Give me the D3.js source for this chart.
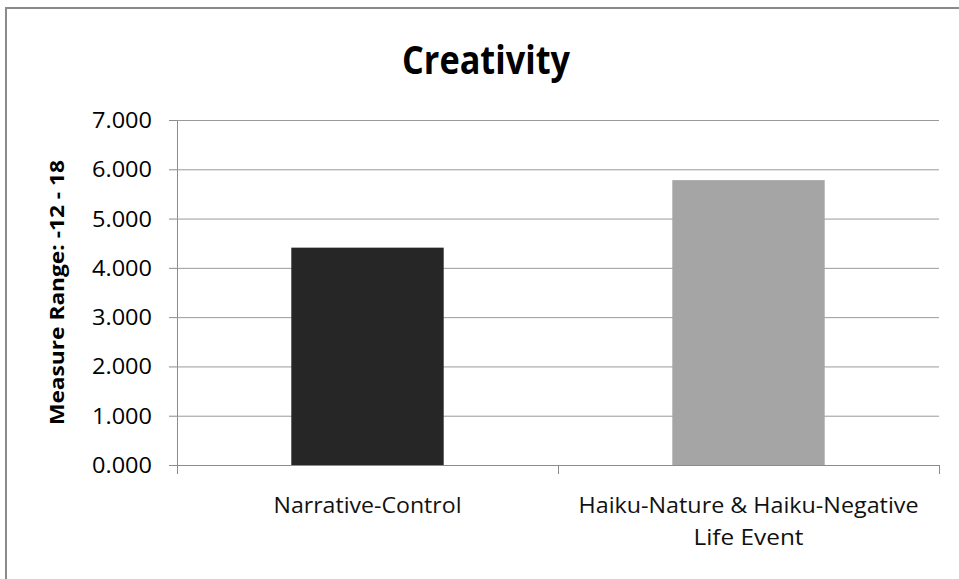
<!DOCTYPE html>
<html>
<head>
<meta charset="utf-8">
<script src="https://cdn.jsdelivr.net/npm/d3@7"></script>
<style>
  html, body { margin: 0; padding: 0; background: #fff; }
  svg { display: block; }
  text { font-family: "Open Sans", sans-serif; fill: #000; }
</style>
</head>
<body>
<svg id="chart" width="959" height="579"></svg>
<script>
// ─── Data ────────────────────────────────────────────────────────────────────

const categories = ['Narrative-Control', 'Haiku-Nature & Haiku-Negative Life Event'];
const labelLines = [['Narrative-Control'], ['Haiku-Nature & Haiku-Negative', 'Life Event']];
const values     = [4.41, 5.78];
const barColors  = ['#262626', '#a5a5a5'];
const yTicks     = [0, 1, 2, 3, 4, 5, 6, 7];

// ─── Setup ───────────────────────────────────────────────────────────────────

const svg = d3.select('#chart');
const W = 959, H = 579;
const plot = { left: 177, right: 939, top: 120, bottom: 465 };

// outer border (only top/left visible in frame)
svg.append('rect')
  .attr('x', 6).attr('y', 8)
  .attr('width', W + 20).attr('height', H + 20)
  .attr('fill', 'none')
  .attr('stroke', '#8a8a8a')
  .attr('stroke-width', 2);

const x = d3.scaleBand()
  .domain(categories)
  .range([plot.left, plot.right])
  .paddingInner(0.6)
  .paddingOuter(0.3);

const xCat = d3.scaleBand()
  .domain(categories)
  .range([plot.left, plot.right]);

const y = d3.scaleLinear()
  .domain([0, 7])
  .range([plot.bottom, plot.top]);

// ─── Grid + y axis ───────────────────────────────────────────────────────────

const yAxis = svg.append('g')
  .attr('transform', `translate(${plot.left},0)`)
  .call(d3.axisLeft(y).tickValues(yTicks).tickFormat(d3.format('.3f')).tickSize(8).tickPadding(17));

yAxis.select('.domain').attr('stroke', '#8c8c8c');
yAxis.selectAll('.tick line').attr('stroke', '#8c8c8c');
yAxis.selectAll('.tick text')
  .style('font-size', '21px')
  .style('font-family', 'Open Sans, sans-serif')
  .attr('fill', '#000')
  .attr('dy', '0.36em')
  .attr('textLength', 60)
  .attr('lengthAdjust', 'spacingAndGlyphs');

svg.append('g').selectAll('line')
  .data(yTicks.filter(d => d > 0))
  .join('line')
  .attr('x1', plot.left).attr('x2', plot.right)
  .attr('y1', d => y(d) + 0.5).attr('y2', d => y(d) + 0.5)
  .attr('stroke', '#9a9a9a')
  .attr('stroke-width', 1);

// ─── Bars ────────────────────────────────────────────────────────────────────

svg.append('g').selectAll('rect')
  .data(categories)
  .join('rect')
  .attr('x', d => x(d))
  .attr('y', (d, i) => y(values[i]))
  .attr('width', x.bandwidth())
  .attr('height', (d, i) => y(0) - y(values[i]))
  .attr('fill', (d, i) => barColors[i]);

// ─── X axis ──────────────────────────────────────────────────────────────────

const xAxis = svg.append('g')
  .attr('transform', `translate(0,${plot.bottom})`);

xAxis.append('line')
  .attr('x1', plot.left).attr('x2', plot.right)
  .attr('y1', 0.5).attr('y2', 0.5)
  .attr('stroke', '#8c8c8c');

const catEdges = categories.map(c => xCat(c)).concat([plot.right]);
xAxis.selectAll('line.tk')
  .data(catEdges)
  .join('line')
  .attr('class', 'tk')
  .attr('x1', d => d + 0.5).attr('x2', d => d + 0.5)
  .attr('y1', 0).attr('y2', 9)
  .attr('stroke', '#8c8c8c');

// widths of each label line in the reference
const lineWidths = [[188], [340, 110]];

const xLabels = xAxis.selectAll('text.cat')
  .data(categories)
  .join('text')
  .attr('class', 'cat')
  .attr('x', d => xCat(d) + xCat.bandwidth() / 2)
  .attr('text-anchor', 'middle')
  .style('font-size', '21px')
  .style('fill', '#111');

xLabels.each(function (d, i) {
  const t = d3.select(this);
  const cx = +t.attr('x');
  labelLines[i].forEach((line, j) => {
    t.append('tspan')
      .attr('x', cx)
      .attr('y', 48 + j * 32)
      .attr('textLength', lineWidths[i][j])
      .attr('lengthAdjust', 'spacingAndGlyphs')
      .text(line);
  });
});

// ─── Titles ──────────────────────────────────────────────────────────────────

svg.append('text')
  .attr('x', 486).attr('y', 74)
  .attr('text-anchor', 'middle')
  .style('font-size', '40px')
  .style('font-weight', 'bold')
  .attr('textLength', 168)
  .attr('lengthAdjust', 'spacingAndGlyphs')
  .text('Creativity');

svg.append('text')
  .attr('transform', `translate(64,${(plot.top + plot.bottom) / 2}) rotate(-90)`)
  .attr('text-anchor', 'middle')
  .style('font-size', '20px')
  .style('font-weight', 'bold')
  .attr('textLength', 265)
  .attr('lengthAdjust', 'spacingAndGlyphs')
  .text('Measure Range: -12 - 18');
</script>
</body>
</html>
